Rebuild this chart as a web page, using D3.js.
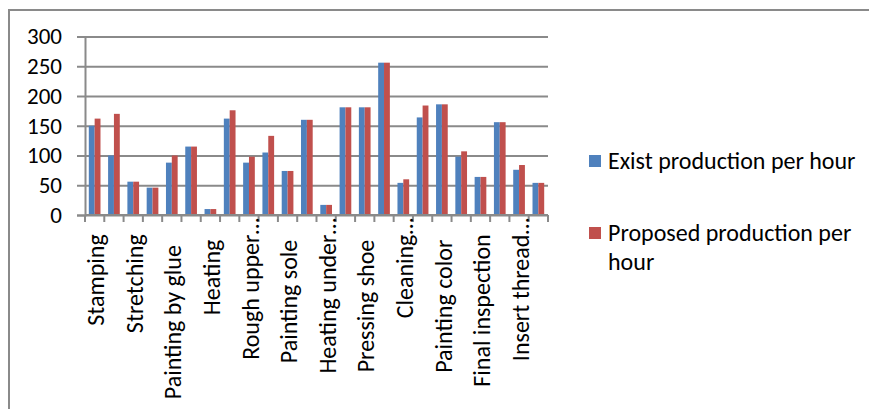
<!DOCTYPE html>
<html>
<head>
<meta charset="utf-8">
<script src="https://cdn.jsdelivr.net/npm/d3@7/dist/d3.min.js"></script>
<style>
  html, body { margin: 0; padding: 0; background: #fff; }
  svg { display: block; }
  text { font-family: Carlito, Lato, "Open Sans", sans-serif; fill: #000; }
</style>
</head>
<body>
<svg id="chart" width="869" height="409"></svg>
<script>
// Production steps (only every other name is printed on the axis)
const categories = [
  "Stamping   ", "", "Stretching   ", "", "Painting by glue     ", "",
  "Heating    ", "", "Rough upper…", "", "Painting sole    ", "",
  "Heating under…", "", "Pressing shoe    ", "", "Cleaning…", "",
  "Painting color    ", "", "Final inspection   ", "", "Insert thread…", ""
];
const existPerHour = [150, 100, 56, 46, 88, 115, 10, 162, 88, 105, 74, 160,
                      17, 181, 181, 256, 54, 164, 186, 98, 64, 156, 76, 54];
const proposedPerHour = [162, 170, 56, 46, 100, 115, 10, 176, 98, 133, 74, 160,
                         17, 181, 181, 256, 60, 184, 186, 107, 64, 156, 84, 54];
const yTicks = [0, 50, 100, 150, 200, 250, 300];
const seriesNames = ["Exist production per hour", "Proposed production per hour"];
const seriesColors = ["#4F81BD", "#C0504D"];

const svg = d3.select("#chart");
const plot = { left: 85, right: 548, top: 36.5, bottom: 215 };
const gridColor = "#8a8a8a";

// outer frame (top and left edges)
svg.append("path")
  .attr("d", "M9,409 V10 H869")
  .attr("fill", "none").attr("stroke", "#8a8a8a").attr("stroke-width", 2);

const x = d3.scaleBand()
  .domain(d3.range(categories.length))
  .range([plot.left, plot.right])
  .padding(0);
const xSeries = d3.scaleBand()
  .domain([0, 1])
  .range([0, x.bandwidth()])
  .paddingInner(0)
  .paddingOuter(0.65);
const y = d3.scaleLinear().domain([0, 300]).range([plot.bottom, plot.top]);

// horizontal gridlines
svg.append("g")
  .attr("transform", `translate(${plot.left},0)`)
  .call(d3.axisLeft(y).tickValues(yTicks).tickSize(-(plot.right - plot.left)).tickFormat(""))
  .call(g => g.select(".domain").remove())
  .call(g => g.selectAll("line").attr("stroke", gridColor).attr("stroke-width", 2));

// value axis with outside ticks and labels
svg.append("g")
  .attr("transform", `translate(${plot.left},0)`)
  .call(d3.axisLeft(y).tickValues(yTicks).tickSize(8).tickPadding(15))
  .call(g => g.select(".domain").attr("stroke", gridColor).attr("stroke-width", 2))
  .call(g => g.selectAll("line").attr("stroke", gridColor).attr("stroke-width", 2))
  .call(g => g.selectAll("text").attr("font-size", 23).attr("font-family", "Carlito, Lato, sans-serif").attr("fill", "#000"));

// bars
const series = [existPerHour, proposedPerHour];
series.forEach((vals, s) => {
  svg.append("g").selectAll("rect")
    .data(vals)
    .join("rect")
    .attr("x", (d, i) => x(i) + xSeries(s))
    .attr("width", xSeries.bandwidth())
    .attr("y", d => y(d))
    .attr("height", d => y(0) - y(d))
    .attr("fill", seriesColors[s]);
});

// category axis line with ticks between categories
const catAxis = svg.append("g");
catAxis.append("line")
  .attr("x1", plot.left).attr("x2", plot.right)
  .attr("y1", plot.bottom).attr("y2", plot.bottom)
  .attr("stroke", gridColor).attr("stroke-width", 2);
catAxis.selectAll("line.tick")
  .data(d3.range(categories.length + 1))
  .join("line")
  .attr("class", "tick")
  .attr("x1", i => i < categories.length ? x(i) : plot.right)
  .attr("x2", i => i < categories.length ? x(i) : plot.right)
  .attr("y1", plot.bottom).attr("y2", plot.bottom + 7)
  .attr("stroke", gridColor).attr("stroke-width", 2);

// rotated category names
catAxis.selectAll("text")
  .data(categories.map((c, i) => ({ c, i })).filter(d => d.c !== ""))
  .join("text")
  .attr("transform", d => `translate(${x(d.i) + x.bandwidth() / 2},218) rotate(-90)`)
  .attr("text-anchor", "end")
  .attr("dy", "0.4em")
  .attr("font-size", 24)
  .style("white-space", "pre")
  .text(d => d.c);

// legend
const legend = svg.append("g");
const legendRows = [
  { lines: ["Exist production per hour"], y: 169 },
  { lines: ["Proposed production per", "hour"], y: 241 }
];
legendRows.forEach((row, s) => {
  legend.append("rect")
    .attr("x", 589).attr("y", row.y - 14)
    .attr("width", 12).attr("height", 12)
    .attr("fill", seriesColors[s]);
  const t = legend.append("text")
    .attr("x", 608).attr("y", row.y)
    .attr("font-size", 24);
  row.lines.forEach((ln, k) => {
    t.append("tspan").attr("x", 608).attr("dy", k === 0 ? 0 : 29).text(ln);
  });
});
</script>
</body>
</html>
